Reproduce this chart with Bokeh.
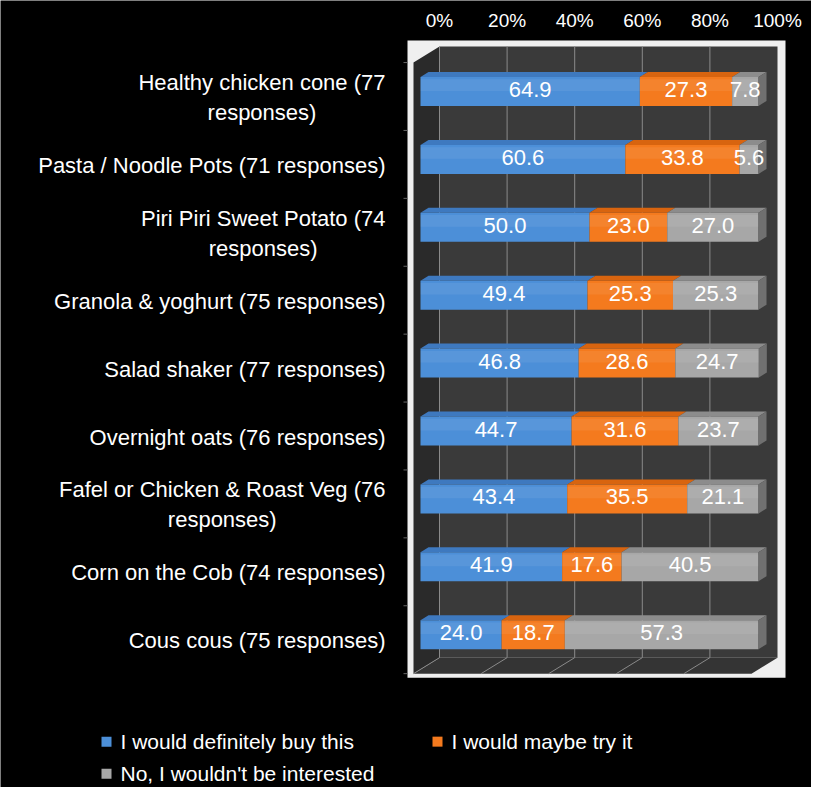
from bokeh.plotting import figure
from bokeh.models import Range1d
from bokeh.core.properties import value
from bokeh.embed import file_html
from bokeh.resources import INLINE

# ---------------- data ----------------
categories = [
    "Healthy chicken cone (77\nresponses)",
    "Pasta / Noodle Pots (71 responses)",
    "Piri Piri Sweet Potato (74\nresponses)",
    "Granola & yoghurt (75 responses)",
    "Salad shaker (77 responses)",
    "Overnight oats (76 responses)",
    "Fafel or Chicken & Roast Veg (76\nresponses)",
    "Corn on the Cob (74 responses)",
    "Cous cous (75 responses)",
]
definitely = [64.9, 60.6, 50.0, 49.4, 46.8, 44.7, 43.4, 41.9, 24.0]
maybe = [27.3, 33.8, 23.0, 25.3, 28.6, 31.6, 35.5, 17.6, 18.7]
not_interested = [7.8, 5.6, 27.0, 25.3, 24.7, 23.7, 21.1, 40.5, 57.3]
series_names = ["I would definitely buy this", "I would maybe try it",
                "No, I wouldn't be interested"]
x_ticks = [0, 20, 40, 60, 80, 100]
x_tick_labels = ["0%", "20%", "40%", "60%", "80%", "100%"]

# ---------------- style / layout ----------------
W, H = 811, 787
PX_PER_PCT = 3.38
PX_PER_ROW = 67.9
ORIGIN_X = 420   # canvas px of the bars' 0%
ORIGIN_Y = 91    # canvas px of the first row centre
FONT = value("Liberation Sans")
front_cols = ["#4c8fd8", "#f47a1e", "#a7a7a7"]
top_cols = ["#3e79bf", "#d8640f", "#8c8c8c"]
side_col = "#707070"
BAR_H_PX = 29
BAR_DX, BAR_DY = 8, 5          # bar depth (px)
BOX_FRONT = (-7, 5)             # box front plane offset (px)
BOX_BACK = (19, -11)            # box back wall offset (px)


def dx(px):
    return px / PX_PER_PCT


def dy(px):  # positive = downward
    return px / PX_PER_ROW


n = len(categories)
rows = list(range(n))
lo, hi = -0.5, n - 0.5
x0, x1 = x_ticks[0], x_ticks[-1]

p = figure(width=W, height=H, output_backend="svg", toolbar_location=None,
           x_range=Range1d(-ORIGIN_X / PX_PER_PCT, (W - ORIGIN_X) / PX_PER_PCT),
           y_range=Range1d((H - ORIGIN_Y) / PX_PER_ROW, -ORIGIN_Y / PX_PER_ROW),
           x_axis_type=None, y_axis_type=None,
           min_border=0, min_border_left=0, min_border_right=0,
           min_border_top=0, min_border_bottom=0,
           background_fill_color="black", border_fill_color="black",
           outline_line_color=None)
p.grid.visible = False

fx, fy = BOX_FRONT
bx, by = BOX_BACK

# white plot-area frame
p.quad(left=[x0 + dx(fx - 6)], right=[x1 + dx(bx + 8)],
       top=[lo + dy(by - 6)], bottom=[hi + dy(fy + 4)],
       fill_color="#efefef", line_color=None)
# back wall
p.quad(left=[x0 + dx(bx)], right=[x1 + dx(bx)],
       top=[lo + dy(by)], bottom=[hi + dy(by)],
       fill_color="#3a3a3a", line_color=None)
# left wall
p.patch(x=[x0 + dx(fx), x0 + dx(bx), x0 + dx(bx), x0 + dx(fx)],
        y=[lo + dy(fy), lo + dy(by), hi + dy(by), hi + dy(fy)],
        fill_color="#2a2a2a", line_color=None)
# floor
p.patch(x=[x0 + dx(fx), x0 + dx(bx), x1 + dx(bx), x1 + dx(fx)],
        y=[hi + dy(fy), hi + dy(by), hi + dy(by), hi + dy(fy)],
        fill_color="#343434", line_color=None)

# grid lines on back wall and floor
gt = x_ticks[:-1]
p.segment(x0=[t + dx(bx) for t in gt], y0=[lo + dy(by)] * len(gt),
          x1=[t + dx(bx) for t in gt], y1=[hi + dy(by)] * len(gt),
          line_color="#8a8a8a", line_width=1)
p.segment(x0=[t + dx(bx) for t in gt], y0=[hi + dy(by)] * len(gt),
          x1=[t + dx(fx) for t in gt], y1=[hi + dy(fy)] * len(gt),
          line_color="#8a8a8a", line_width=1)

# small category tick marks left of the frame
bounds = [lo + k for k in range(n + 1)]
p.segment(x0=[x0 + dx(fx - 10)] * len(bounds), y0=[b + dy(fy) for b in bounds],
          x1=[x0 + dx(fx - 6)] * len(bounds), y1=[b + dy(fy) for b in bounds],
          line_color="#666666", line_width=1)

# top tick labels
p.text(x=[t + dx(bx) for t in x_ticks], y=[lo + dy(by - 26)] * len(x_ticks),
       text=x_tick_labels, text_align="center", text_baseline="middle",
       text_color="white", text_font=FONT, text_font_size="19px")

# stacked 3D bars
series = [definitely, maybe, not_interested]
bar_h = dy(BAR_H_PX)
lefts = [0.0] * n
for si, vals in enumerate(series):
    rights = [l + v for l, v in zip(lefts, vals)]
    tops = [r - bar_h / 2 for r in rows]
    # top face
    xs = [[l, r, r + dx(BAR_DX), l + dx(BAR_DX)] for l, r in zip(lefts, rights)]
    ys = [[t, t, t - dy(BAR_DY), t - dy(BAR_DY)] for t in tops]
    p.patches(xs=xs, ys=ys, fill_color=top_cols[si], line_color=None)
    # front face
    p.hbar(y=rows, left=lefts, right=rights, height=bar_h,
           fill_color=front_cols[si], line_color=None)
    # subtle highlight on upper part of the front face
    p.hbar(y=[r - bar_h * 0.22 for r in rows], left=lefts, right=rights,
           height=bar_h * 0.4, fill_color="white", fill_alpha=0.07,
           line_color=None)
    if si == len(series) - 1:
        xs = [[r, r + dx(BAR_DX), r + dx(BAR_DX), r] for r in rights]
        ys = [[t, t - dy(BAR_DY), t + bar_h - dy(BAR_DY), t + bar_h] for t in tops]
        p.patches(xs=xs, ys=ys, fill_color=side_col, line_color=None)
    # value labels
    p.text(x=[(l + r) / 2 for l, r in zip(lefts, rights)],
           y=[r + dy(-2) for r in rows], text=[f"{v:.1f}" for v in vals],
           text_align="center", text_baseline="middle", text_color="white",
           text_font=FONT, text_font_size="22px")
    lefts = rights

# category labels
p.text(x=[x0 + dx(-35)] * n, y=[r + dy(6) for r in rows], text=categories,
       anchor="center_right", text_align="center", text_baseline="middle",
       text_color="white", text_font=FONT, text_font_size="22px",
       text_line_height=1.2)

# legend (drawn manually)
leg_x = [x0 + dx(-314), x0 + dx(17), x0 + dx(-314)]
leg_y = [hi + dy(73), hi + dy(73), hi + dy(105)]
p.scatter(x=leg_x, y=leg_y, marker="square", size=10, fill_color=front_cols,
          line_color=None)
p.text(x=[v + dx(14) for v in leg_x], y=leg_y, text=series_names,
       text_align="left", text_baseline="middle", text_color="white",
       text_font=FONT, text_font_size="21px")

open("out.html", "w").write(file_html(p, INLINE))
